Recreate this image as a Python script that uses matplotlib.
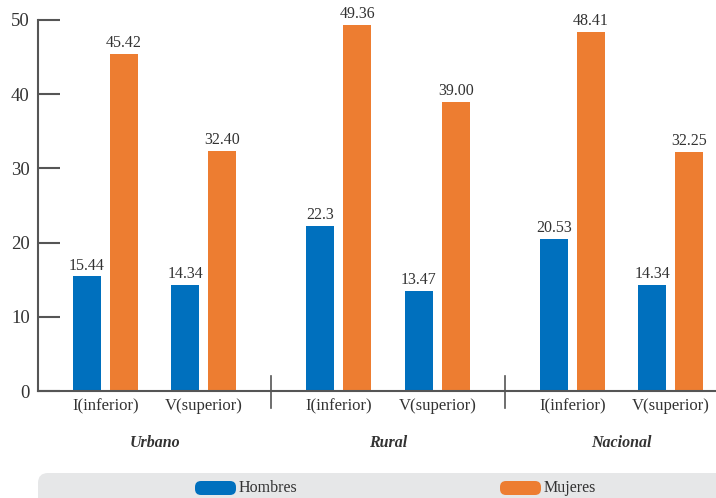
import matplotlib
matplotlib.use("Agg")
import matplotlib.pyplot as plt
from matplotlib.patches import FancyBboxPatch
import matplotlib.transforms as mtransforms
import numpy as np

groups = ["Urbano", "Rural", "Nacional"]
quintiles = ["I(inferior)", "V(superior)"]
hombres = [15.44, 14.34, 22.3, 13.47, 20.53, 14.34]
mujeres = [45.42, 32.40, 49.36, 39.00, 48.41, 32.25]
hombres_lbl = ["15.44", "14.34", "22.3", "13.47", "20.53", "14.34"]
mujeres_lbl = ["45.42", "32.40", "49.36", "39.00", "48.41", "32.25"]
yticks = [0, 10, 20, 30, 40, 50]

BLUE = "#0070BE"
ORANGE = "#ED7D31"
TXT = "#333333"
AX = "#555555"
plt.rcParams['font.family'] = ['Liberation Serif', 'DejaVu Serif']

W, H = 716, 498
fig = plt.figure(figsize=(W / 100, H / 100), dpi=100)
ax = fig.add_axes([38 / W, (H - 391) / H, (W - 38) / W, (391 - 20) / H])

step = 2.37
x = np.array([0, 1, step, step + 1, 2 * step, 2 * step + 1])
bw = 0.284
off = 0.188

bh = ax.bar(x - off, hombres, bw, color=BLUE, label="Hombres")
bm = ax.bar(x + off, mujeres, bw, color=ORANGE, label="Mujeres")
for rect, t in zip(bh, hombres_lbl):
    ax.annotate(t, (rect.get_x() + rect.get_width() / 2, rect.get_height()),
                xytext=(0, 2), textcoords="offset points", ha="center", va="bottom",
                fontsize=11.5, color=TXT)
for rect, t in zip(bm, mujeres_lbl):
    ax.annotate(t, (rect.get_x() + rect.get_width() / 2, rect.get_height()),
                xytext=(0, 2), textcoords="offset points", ha="center", va="bottom",
                fontsize=11.5, color=TXT)

ax.set_xlim(-0.685, 6.2)
ax.set_ylim(0, 50)
ax.set_yticks(yticks)
ax.set_yticklabels([str(v) for v in yticks], fontsize=13.5, color=TXT)
ax.tick_params(axis="y", direction="in", length=16, width=1.5, color=AX, pad=6)
ax.set_xticks(x)
ax.set_xticklabels(quintiles * 3, fontsize=12, color=TXT)
ax.tick_params(axis="x", length=0, pad=5)
for s in ["top", "right"]:
    ax.spines[s].set_visible(False)
for s in ["left", "bottom"]:
    ax.spines[s].set_color(AX)
    ax.spines[s].set_linewidth(1.5)

trans = mtransforms.blended_transform_factory(ax.transData, ax.transAxes)
for i in range(2):
    xs = (x[2 * i + 1] + x[2 * i + 2]) / 2
    ax.plot([xs, xs], [0.041, -0.046], transform=trans, color=AX, lw=1.2, clip_on=False)
for i, g in enumerate(groups):
    xc = (x[2 * i] + x[2 * i + 1]) / 2
    ax.text(xc, -0.14, g, transform=trans, ha="center", va="center",
            fontsize=11.5, fontstyle="italic", fontweight="bold", color=TXT)

# legend band (pixel coordinates, origin bottom-left)
ident = mtransforms.IdentityTransform()
fig.patches.append(FancyBboxPatch((38, -20), W, 45,
                                  boxstyle="round,pad=0,rounding_size=10",
                                  transform=ident, facecolor="#E6E7E8",
                                  edgecolor="none"))
for (x0, col, lab) in [(195, BLUE, "Hombres"), (500, ORANGE, "Mujeres")]:
    fig.patches.append(FancyBboxPatch((x0, H - 495), 41, 14,
                                      boxstyle="round,pad=0,rounding_size=6",
                                      transform=ident, facecolor=col,
                                      edgecolor="none"))
    fig.text((x0 + 44) / W, (H - 488) / H, lab, ha="left", va="center",
             fontsize=11.5, color=TXT)

fig.savefig("out.png", dpi=100)
